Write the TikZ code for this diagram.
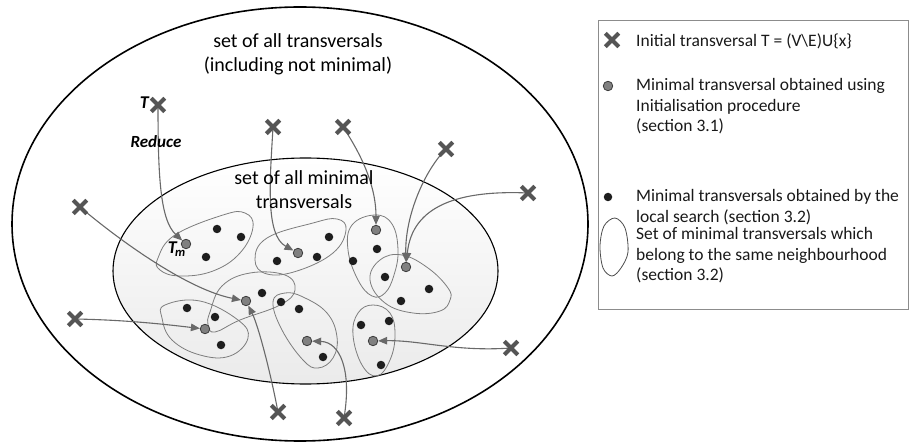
\documentclass[tikz,border=0pt]{standalone}
\usepackage{fontspec}
\setmainfont{Carlito}
\usetikzlibrary{arrows.meta,shapes.misc}
\pgfdeclarelayer{back}
\pgfdeclarelayer{mid}
\pgfsetlayers{back,mid,main}
\definecolor{crossc}{RGB}{85,85,85}
\definecolor{arrc}{RGB}{105,105,105}
\definecolor{blobc}{RGB}{125,125,125}
\definecolor{gdot}{RGB}{128,128,128}
\definecolor{gdotb}{RGB}{60,60,60}
\definecolor{bdot}{RGB}{30,30,30}
\definecolor{legc}{RGB}{140,140,140}
\begin{document}
\begin{tikzpicture}[x=1pt,y=-1pt,
  crossmark/.style={cross out, draw=crossc, line width=4pt, minimum size=9.5pt, inner sep=0pt},
  initdot/.style={circle, fill=gdot, draw=gdotb, line width=0.8pt, minimum size=9.5pt, inner sep=0pt},
  localdot/.style={circle, fill=bdot, minimum size=8.5pt, inner sep=0pt},
  blob/.style={draw=blobc, line width=0.8pt},
  reduce/.style={draw=arrc, line width=1.1pt, -{Triangle[length=9pt,width=7.5pt]}},
  bigtext/.style={font=\fontsize{20}{23.5}\selectfont, inner sep=0pt},
  legtext/.style={font=\fontsize{17.5}{20.5}\selectfont, inner sep=0pt, text=black!90},
  labtext/.style={font=\fontsize{18}{20}\selectfont\bfseries\itshape, inner sep=0pt}
]
\useasboundingbox (0,0) rectangle (909,443);

% ellipses
\begin{pgfonlayer}{back}
\draw[line width=1.6pt] (300,224) ellipse [x radius=288, y radius=217];
\shade[top color=white, bottom color=black!8, draw=black, line width=1.1pt]
  (305.5,271) ellipse [x radius=192.5, y radius=113];
\end{pgfonlayer}

% texts
\node[bigtext, anchor=base] (t1) at (298,48) {\begin{tabular}[t]{@{}c@{}}set of all transversals\\(including not minimal)\end{tabular}};
\node[bigtext, anchor=base] (t2) at (304,185) {\begin{tabular}[t]{@{}c@{}}set of all minimal\\transversals\end{tabular}};

% crosses
\node[crossmark] (c1) at (158,105) {};
\node[crossmark] (c2) at (273,127) {};
\node[crossmark] (c3) at (80,207) {};
\node[crossmark] (c4) at (343,127) {};
\node[crossmark] (c5) at (446,149) {};
\node[crossmark] (c6) at (528,193) {};
\node[crossmark] (c7) at (75,319) {};
\node[crossmark] (c8) at (278,412) {};
\node[crossmark] (c9) at (344,418) {};
\node[crossmark] (c10) at (511,348) {};

% initial minimal transversals
\node[initdot] (g1) at (186,244) {};
\node[initdot] (g2) at (298,253) {};
\node[initdot] (g3) at (376,230) {};
\node[initdot] (g4) at (406,267) {};
\node[initdot] (g5) at (246,301) {};
\node[initdot] (g6) at (205,329) {};
\node[initdot] (g7) at (307,341) {};
\node[initdot] (g8) at (373,341) {};

% local search transversals
\foreach \p [count=\i] in {(217,229),(241,237),(206,257),(277,261),(317,257),(329,237),
  (353,261),(377,249),(385,277),(429,289),(401,301),(262,293),(281,302),(299,309),
  (187,308),(215,317),(221,345),(323,357),(361,325),(389,321),(381,365)}
  \node[localdot] (b\i) at \p {};

% labels
\node[labtext, anchor=base east] (lT) at (149,109) {T};
\node[labtext, font=\fontsize{17}{20}\selectfont\bfseries\itshape, anchor=base] (lR) at (156,148) {Reduce};
\node[labtext, anchor=base east] (lTm) at (186,254) {T\textsubscript{\kern-1.5pt m}};

% neighbourhoods
\begin{pgfonlayer}{mid}
\draw[blob] plot[smooth cycle, tension=0.7] coordinates {(158,258) (175,235) (223,215) (245,213) (253,227) (240,253) (213,271) (180,276) (160,270)};
\draw[blob] plot[smooth cycle, tension=0.7] coordinates {(255,260) (267,238) (313,223) (337,219) (346,230) (333,253) (297,271) (267,274)};
\draw[blob] plot[smooth cycle, tension=0.7] coordinates {(375,215) (392,224) (398,250) (394,275) (385,293) (372,296) (358,280) (348,250) (352,225)};
\draw[blob] plot[smooth cycle, tension=0.7] coordinates {(370,280) (380,260) (402,255) (428,268) (448,288) (450,300) (440,311) (413,313) (385,303)};
\draw[blob] plot[smooth cycle, tension=0.7] coordinates {(210,312) (222,286) (250,273) (285,275) (295,290) (280,305) (240,320) (215,332) (208,325)};
\draw[blob] plot[smooth cycle, tension=0.7] coordinates {(165,305) (200,301) (238,320) (248,338) (230,356) (200,355) (172,340) (162,318)};
\draw[blob] plot[smooth cycle, tension=0.7] coordinates {(273,302) (285,293) (303,297) (327,313) (337,337) (333,358) (318,368) (303,360) (282,330)};
\draw[blob] plot[smooth cycle, tension=0.7] coordinates {(373,305) (390,313) (395,335) (390,360) (377,376) (362,365) (353,335) (358,313)};

% connectors
\draw[reduce] (c1.center) .. controls (158,175) and (160,220) .. (g1);
\draw[reduce] (c2.center) .. controls (270,180) and (265,235) .. (g2);
\draw[reduce] (c4.center) .. controls (365,160) and (376,190) .. (g3);
\draw[reduce] (c5.center) .. controls (425,170) and (405,215) .. (g4);
\draw[reduce] (c6.center) .. controls (460,190) and (412,205) .. (g4);
\draw[reduce] (c3.center) .. controls (125,245) and (190,290) .. (g5);
\draw[reduce] (c7.center) .. controls (130,320) and (170,325) .. (g6);
\draw[reduce] (c8.center) .. controls (270,370) and (258,325) .. (g5);
\draw[reduce] (c9.center) .. controls (352,370) and (340,342) .. (g7);
\draw[reduce] (c10.center) .. controls (455,352) and (420,340) .. (g8);
\end{pgfonlayer}

% legend
\draw[draw=legc, line width=0.9pt] (598,20) rectangle (908,309);
\node[crossmark] (lc) at (612,40) {};
\node[legtext, anchor=base west] (L1) at (636,47) {Initial transversal T = (V\textbackslash E)U\{x\}};
\node[initdot] (lg) at (608,86) {};
\node[legtext, anchor=base west] (L2) at (636,91) {\begin{tabular}[t]{@{}l@{}}Minimal transversal obtained using\\Initialisation procedure\\(section 3.1)\end{tabular}};
\node[localdot] (lb) at (608,197) {};
\node[legtext, anchor=base west] (L3) at (636,202) {\begin{tabular}[t]{@{}l@{}}Minimal transversals obtained by the\\local search (section 3.2)\end{tabular}};
\draw[draw=black!70, line width=0.8pt] plot[smooth cycle, tension=0.55] coordinates {(615,218) (625,228) (628,252) (621,268) (612,276) (603,268) (600,246) (604,226)};
\node[legtext, anchor=base west] (L4) at (636,240) {\begin{tabular}[t]{@{}l@{}}Set of minimal transversals which\\belong to the same neighbourhood\\(section 3.2)\end{tabular}};
\end{tikzpicture}
\end{document}
